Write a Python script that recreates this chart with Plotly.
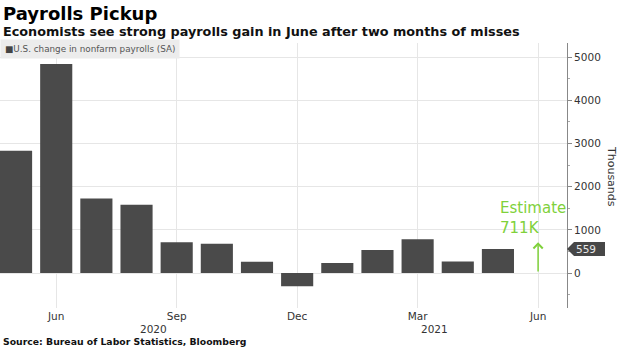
import plotly.graph_objects as go

# ---- data ----
months = ["2020-05", "2020-06", "2020-07", "2020-08", "2020-09", "2020-10", "2020-11",
          "2020-12", "2021-01", "2021-02", "2021-03", "2021-04", "2021-05", "2021-06"]
payrolls = [2833, 4846, 1726, 1583, 716, 680, 264, -306, 233, 536, 785, 269, 559, None]
tick_months = ["2020-06", "2020-09", "2020-12", "2021-03", "2021-06"]
tick_labels = ["Jun", "Sep", "Dec", "Mar", "Jun"]
years = ["2020", "2021"]
estimate_month = "2021-06"
estimate_value = 711
last_value = 559

W, H = 620, 348
ML, MR, MT, MB = 0, 53, 43, 40
PW, PH = W - ML - MR, H - MT - MB


def px(x):
    return (x - ML) / PW


def py(y):
    return (H - MB - y) / PH


FONT = "DejaVu Sans"
BAR = "#4a4a4a"
GREEN = "#7fd13b"

fig = go.Figure()
fig.add_trace(go.Bar(x=months, y=payrolls, marker=dict(color=BAR, line=dict(width=0)),
                     showlegend=False, hoverinfo="x+y"))

annotations = []
# title / subtitle / source
annotations.append(dict(text="<b>Payrolls Pickup</b>", xref="paper", yref="paper",
                        x=px(1), y=py(13), xanchor="left", yanchor="middle",
                        showarrow=False, font=dict(family=FONT, size=18, color="#000")))
annotations.append(dict(text="<b>Economists see strong payrolls gain in June after two months of misses</b>",
                        xref="paper", yref="paper", x=px(1), y=py(31), xanchor="left",
                        yanchor="middle", showarrow=False,
                        font=dict(family=FONT, size=12.8, color="#111")))
annotations.append(dict(text="<b>Source: Bureau of Labor Statistics, Bloomberg</b>",
                        xref="paper", yref="paper", x=px(1), y=py(341), xanchor="left",
                        yanchor="middle", showarrow=False,
                        font=dict(family=FONT, size=9.3, color="#111")))
# legend box
annotations.append(dict(text="<span style='color:#444'>■</span>U.S. change in nonfarm payrolls (SA)",
                        xref="paper", yref="paper", x=px(0), y=py(39), xanchor="left",
                        yanchor="top", showarrow=False, bgcolor="#ececec", borderpad=4,
                        font=dict(family=FONT, size=8.8, color="#555")))
# year labels
year_groups = {y: [i for i, m in enumerate(months) if m.startswith(y)] for y in years}
for y in years:
    idx = year_groups[y]
    annotations.append(dict(text=y, xref="x", yref="paper", x=sum(idx) / len(idx) - 0.08,
                            y=py(329), xanchor="center", yanchor="middle", showarrow=False,
                            font=dict(family=FONT, size=10.5, color="#333")))
# Thousands
annotations.append(dict(text="Thousands", xref="paper", yref="paper", x=px(612), y=py(176),
                        xanchor="center", yanchor="middle", textangle=90, showarrow=False,
                        font=dict(family=FONT, size=11, color="#333")))
# estimate arrow + text
annotations.append(dict(text="", x=estimate_month, y=estimate_value, ax=estimate_month, ay=0,
                        xref="x", yref="y", axref="x", ayref="y", showarrow=True,
                        arrowhead=4, arrowsize=1.2, arrowwidth=1.5, arrowcolor=GREEN))
annotations.append(dict(text="Estimate<br>%dK" % estimate_value, x=months[-2], y=estimate_value,
                        xref="x", yref="y", xanchor="left", yanchor="bottom", yshift=3,
                        align="left", showarrow=False,
                        font=dict(family=FONT, size=15, color=GREEN)))
# last value label
annotations.append(dict(text=str(last_value), xref="paper", yref="y", x=1, y=last_value,
                        xanchor="left", yanchor="middle", xshift=7, showarrow=False,
                        font=dict(family=FONT, size=10.5, color="#e8e8e8")))

shapes = [dict(type="path", xref="paper", yref="y", xsizemode="pixel", ysizemode="pixel",
               xanchor=1, yanchor=last_value,
               path="M0,0 L7,7 L38,7 L38,-7 L7,-7 Z",
               fillcolor="#474747", line=dict(width=0), layer="above")]

fig.update_layout(
    width=W, height=H,
    margin=dict(l=ML, r=MR, t=MT, b=MB, pad=0),
    paper_bgcolor="white", plot_bgcolor="white",
    bargap=0.2,
    font=dict(family=FONT, size=10.5, color="#333"),
    annotations=annotations, shapes=shapes,
    xaxis=dict(type="category", categoryorder="array", categoryarray=months,
               range=[-0.4, len(months) - 0.28],
               tickmode="array", tickvals=tick_months, ticktext=tick_labels,
               showgrid=True, gridcolor="#e6e6e6", gridwidth=1, ticks="",
               showline=False, zeroline=False,
               tickfont=dict(family=FONT, size=10.5, color="#333")),
    yaxis=dict(side="right", range=[-810, 5330], tick0=0, dtick=1000,
               showgrid=True, gridcolor="#e6e6e6", gridwidth=1, zeroline=False,
               showline=True, linecolor="#888", linewidth=1,
               ticks="outside", ticklen=4, tickcolor="#888",
               minor=dict(dtick=500, tick0=0, ticks="outside", ticklen=2, tickcolor="#aaa",
                          showgrid=False),
               tickfont=dict(family=FONT, size=10.5, color="#333")),
)

fig.write_html("out.html")
